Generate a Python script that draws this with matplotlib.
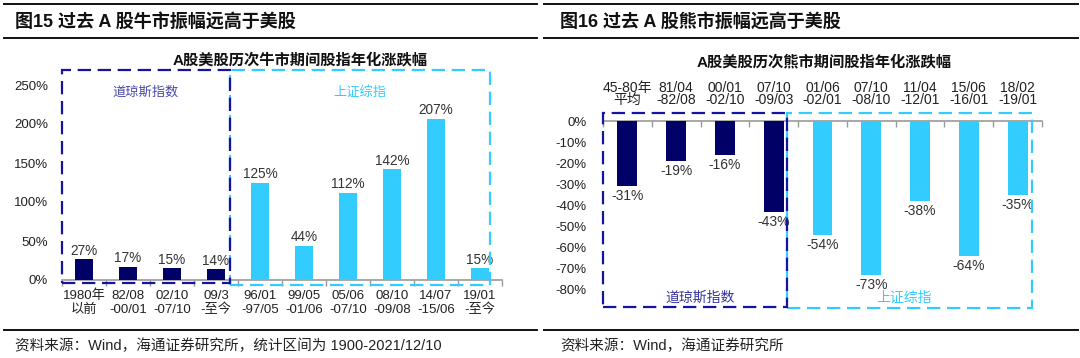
import matplotlib
matplotlib.use("Agg")
import matplotlib.pyplot as plt
from matplotlib.patches import Rectangle
from matplotlib.lines import Line2D
import numpy as np

plt.rcParams['font.family'] = ['Liberation Sans', 'Noto Sans CJK SC']

# ---- data ----
bull_labels = ["1980年\n以前", "82/08\n-00/01", "02/10\n-07/10", "09/3\n-至今",
               "96/01\n-97/05", "99/05\n-01/06", "05/06\n-07/10", "08/10\n-09/08",
               "14/07\n-15/06", "19/01\n-至今"]
bull_values = [27, 17, 15, 14, 125, 44, 112, 142, 207, 15]
bull_us_count = 4

bear_labels = ["45-80年\n平均", "81/04\n-82/08", "00/01\n-02/10", "07/10\n-09/03",
               "01/06\n-02/01", "07/10\n-08/10", "11/04\n-12/01", "15/06\n-16/01",
               "18/02\n-19/01"]
bear_values = [-31, -19, -16, -43, -54, -73, -38, -64, -35]
bear_us_count = 4

bull_yticks = [0, 50, 100, 150, 200, 250]
bear_yticks = [0, -10, -20, -30, -40, -50, -60, -70, -80]

DARK = '#000066'
LIGHT = '#33CCFF'
DARK_BOX = '#1414A0'
TXT = '#333333'

W, H = 1080, 358
fig = plt.figure(figsize=(W / 100, H / 100), dpi=100)


def fx(p):
    return p / W


def fy(p):
    return 1 - p / H


def add_ax(x0, x1, ytop, ybot):
    return fig.add_axes([fx(x0), fy(ybot), fx(x1 - x0), (ybot - ytop) / H])


# ---- rules, titles, sources ----
for (a, b) in [(4, 537), (544, 1078)]:
    for yy in (3.5, 38, 330):
        fig.add_artist(Line2D([fx(a), fx(b)], [fy(yy), fy(yy)], color='#111111', lw=1.4))

fig.text(fx(15), fy(22), "图15 过去 A 股牛市振幅远高于美股", fontsize=13, fontweight='bold',
         va='center', ha='left', color='#111111')
fig.text(fx(560), fy(22), "图16 过去 A 股熊市振幅远高于美股", fontsize=13, fontweight='bold',
         va='center', ha='left', color='#111111')
fig.text(fx(15), fy(346), "资料来源：Wind，海通证券研究所，统计区间为 1900-2021/12/10", fontsize=10.5,
         va='center', ha='left', color='#222222')
fig.text(fx(560), fy(346), "资料来源：Wind，海通证券研究所", fontsize=10.5,
         va='center', ha='left', color='#222222')

fig.text(fx(300), fy(60), "A股美股历次牛市期间股指年化涨跌幅", fontsize=11, fontweight='bold',
         va='center', ha='center', color='#111111')
fig.text(fx(824), fy(62), "A股美股历次熊市期间股指年化涨跌幅", fontsize=11, fontweight='bold',
         va='center', ha='center', color='#111111')

dash = (0, (6, 3))

# ---- left: bull ----
ax1 = add_ax(62, 502, 85, 280)
n1 = len(bull_values)
x1 = np.arange(n1)
cols1 = [DARK] * bull_us_count + [LIGHT] * (n1 - bull_us_count)
ax1.bar(x1, bull_values, width=0.4, color=cols1, zorder=3)
ax1.set_xlim(-0.5, n1 - 0.5)
ax1.set_ylim(0, 250)
for xi, v in zip(x1, bull_values):
    ax1.annotate(f"{v}%", (xi, v), xytext=(0, 1), textcoords='offset points',
                 ha='center', va='bottom', fontsize=9.8, color=TXT)
ax1.set_yticks(bull_yticks)
ax1.set_yticklabels([f"{t}%" for t in bull_yticks], fontsize=9.5, color='#222222')
ax1.tick_params(axis='y', length=0, pad=10)
ax1.set_xticks(x1)
ax1.set_xticklabels(bull_labels, fontsize=9.5, color='#222222', linespacing=1.2)
ax1.set_xticks(np.arange(-0.5, n1, 1), minor=True)
ax1.tick_params(axis='x', which='major', length=0, pad=7)
ax1.tick_params(axis='x', which='minor', length=4, color='#999999', width=1, direction='out')
for s in ('top', 'right', 'left'):
    ax1.spines[s].set_visible(False)
ax1.spines['bottom'].set_color('#999999')
ax1.spines['bottom'].set_linewidth(1.2)
ax1.set_facecolor('none')

b1 = 3.32
ax1.add_patch(Rectangle((-0.5, -3.8), b1 + 0.5, 269 + 3.8, fill=False, edgecolor=DARK_BOX,
                        lw=1.6, linestyle=dash, clip_on=False, zorder=5))
ax1.add_patch(Rectangle((b1, -6.4), 9.23 - b1, 269 + 6.4, fill=False, edgecolor=LIGHT,
                        lw=1.6, linestyle=dash, clip_on=False, zorder=4))
ax1.text((b1 - 0.5) / 2 + 0.0, 240, "道琼斯指数", ha='center', va='center', fontsize=9.5,
         color='#4848AA')
ax1.text((b1 + 9.23) / 2, 240, "上证综指", ha='center', va='center', fontsize=9.5, color=LIGHT)

# ---- right: bear ----
ax2 = add_ax(603, 1042, 121, 290)
n2 = len(bear_values)
x2 = np.arange(n2)
cols2 = [DARK] * bear_us_count + [LIGHT] * (n2 - bear_us_count)
ax2.bar(x2, bear_values, width=0.41, color=cols2, zorder=3)
ax2.set_xlim(-0.5, n2 - 0.5)
ax2.set_ylim(-80, 0)
for xi, v in zip(x2, bear_values):
    ax2.annotate(f"{v}%", (xi, v), xytext=(0, -2), textcoords='offset points',
                 ha='center', va='top', fontsize=10, color=TXT)
ax2.set_yticks(bear_yticks)
ax2.set_yticklabels([f"{t}%" for t in bear_yticks], fontsize=9.5, color='#222222')
ax2.tick_params(axis='y', length=0, pad=12)
ax2.xaxis.tick_top()
ax2.set_xticks(x2)
ax2.set_xticklabels(bear_labels, fontsize=10, color='#222222', linespacing=0.8)
ax2.set_xticks(np.arange(-0.5, n2, 1), minor=True)
ax2.tick_params(axis='x', which='major', length=0, pad=10)
ax2.tick_params(axis='x', which='minor', length=4, color='#999999', width=1, direction='in',
                top=True, bottom=False)
for s in ('bottom', 'right', 'left'):
    ax2.spines[s].set_visible(False)
ax2.spines['top'].set_color('#999999')
ax2.spines['top'].set_linewidth(1.2)
ax2.set_facecolor('none')

b2 = 3.27
ax2.add_patch(Rectangle((-0.5, -88.2), b2 + 0.5, 88.2 + 3.8, fill=False, edgecolor=DARK_BOX,
                        lw=1.6, linestyle=dash, clip_on=False, zorder=5))
ax2.add_patch(Rectangle((b2, -88.6), 8.29 - b2, 88.6 + 3.8, fill=False, edgecolor=LIGHT,
                        lw=1.6, linestyle=dash, clip_on=False, zorder=4))
ax2.text((b2 - 0.5) / 2 + 0.1, -83.5, "道琼斯指数", ha='center', va='center', fontsize=10,
         color='#3333A0')
ax2.text((b2 + 8.29) / 2 - 0.1, -83.5, "上证综指", ha='center', va='center', fontsize=10, color=LIGHT)

fig.savefig("out.png", dpi=100)
